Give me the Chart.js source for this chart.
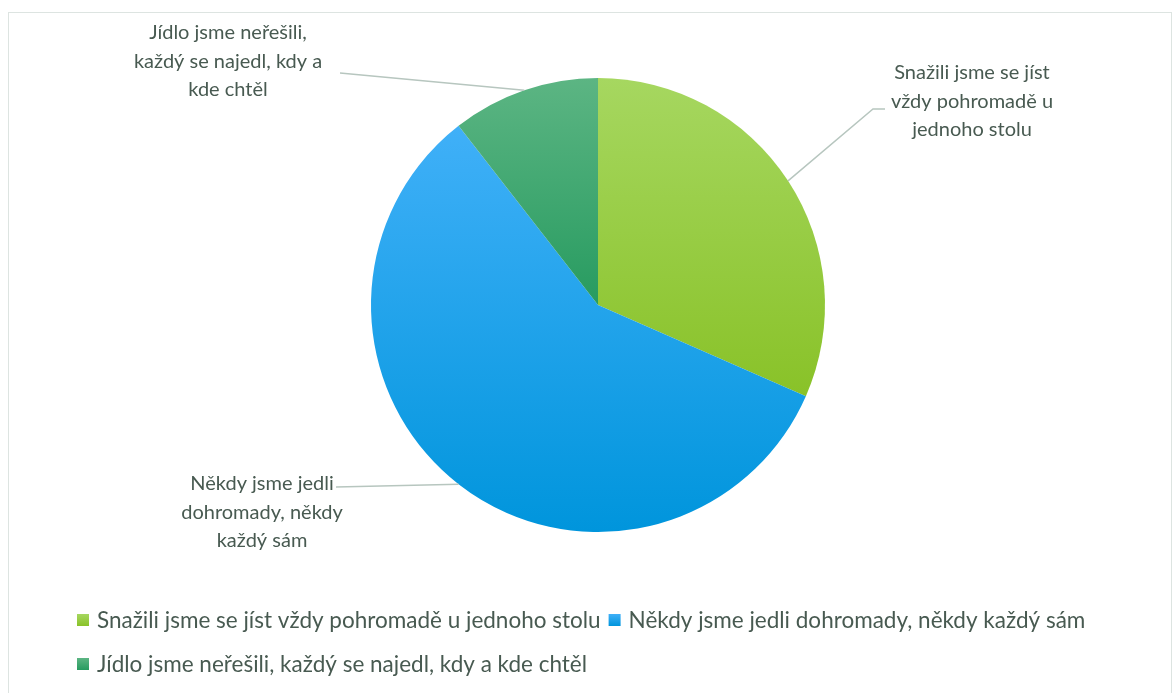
<!DOCTYPE html>
<html lang="cs">
<head>
    <meta charset="UTF-8">
    <title>Společné jídlo</title>
    <script src="https://cdn.jsdelivr.net/npm/chart.js"></script>
    <style>
        html, body {
            margin: 0;
            padding: 0;
            background: #ffffff;
        }
        #wrap {
            position: relative;
            width: 1174px;
            height: 693px;
        }
    </style>
</head>
<body>
    <div id="wrap">
        <canvas id="mealChart"></canvas>
    </div>

    <script>
        const categories = [
            'Snažili jsme se jíst vždy pohromadě u jednoho stolu',
            'Někdy jsme jedli dohromady, někdy každý sám',
            'Jídlo jsme neřešili, každý se najedl, kdy a kde chtěl'
        ];
        const answers = [6, 11, 2];
        const labelLines = [
            ['Snažili jsme se jíst', 'vždy pohromadě u', 'jednoho stolu'],
            ['Někdy jsme jedli', 'dohromady, někdy', 'každý sám'],
            ['Jídlo jsme neřešili,', 'každý se najedl, kdy a', 'kde chtěl']
        ];
        const topColors = ['#a6d760', '#40b0f8', '#5cb583'];
        const bottomColors = ['#89c228', '#0095dc', '#279b60'];

        const LABEL_FONT = '20px Lato, "Noto Sans", sans-serif';
        const LEGEND_FONT = '22.5px Lato, "Noto Sans", sans-serif';
        const TEXT = '#485a51';
        const LEADER = '#b7c6bf';

        // vertical gradient spanning each slice's own bounding box
        function sliceFill(ctx) {
            const chart = ctx.chart;
            const area = chart.chartArea;
            const i = ctx.dataIndex;
            if (!area || i === undefined) return topColors[i] || '#999';
            const total = answers.reduce((a, b) => a + b, 0);
            let before = 0;
            for (let k = 0; k < i; k++) before += answers[k];
            const a0 = -Math.PI / 2 + 2 * Math.PI * before / total;
            const a1 = a0 + 2 * Math.PI * answers[i] / total;
            const cy = (area.top + area.bottom) / 2;
            const r = Math.min(area.right - area.left, area.bottom - area.top) / 2;
            const ys = [cy, cy + r * Math.sin(a0), cy + r * Math.sin(a1)];
            for (let k = -1; k <= 3; k++) {
                const a = -Math.PI / 2 + k * Math.PI;
                if (a > a0 && a < a1) ys.push(cy + r * Math.sin(a));
            }
            const g = chart.ctx.createLinearGradient(0, Math.min(...ys), 0, Math.max(...ys));
            g.addColorStop(0, topColors[i]);
            g.addColorStop(1, bottomColors[i]);
            return g;
        }

        // outside labels: text block centre and the bend of the leader line,
        // both relative to the pie centre
        const labelPlaces = [
            {tx: 374, ty: -232, bend: [[275, -196], [287, -196]]},
            {tx: -336, ty: 179, bend: [[-262, 182]]},
            {tx: -370, ty: -272, bend: [[-258, -232]]}
        ];

        const outsideLabels = {
            id: 'outsideLabels',
            afterDatasetsDraw(chart) {
                const ctx = chart.ctx;
                const arcs = chart.getDatasetMeta(0).data;
                ctx.save();
                arcs.forEach((arc, i) => {
                    const p = labelPlaces[i];
                    const mid = (arc.startAngle + arc.endAngle) / 2;
                    const ex = arc.x + arc.outerRadius * Math.cos(mid);
                    const ey = arc.y + arc.outerRadius * Math.sin(mid);
                    ctx.beginPath();
                    ctx.moveTo(ex, ey);
                    p.bend.forEach(b => ctx.lineTo(arc.x + b[0], arc.y + b[1]));
                    ctx.strokeStyle = LEADER;
                    ctx.lineWidth = 1.5;
                    ctx.stroke();

                    ctx.font = LABEL_FONT;
                    ctx.fillStyle = TEXT;
                    ctx.textAlign = 'center';
                    ctx.textBaseline = 'middle';
                    labelLines[i].forEach((line, j) => {
                        ctx.fillText(line, arc.x + p.tx, arc.y + p.ty + j * 28.5);
                    });
                });
                ctx.restore();
            }
        };

        // legend rows under the pie plus the thin frame round the chart
        const bottomLegend = {
            id: 'bottomLegend',
            afterDraw(chart) {
                const ctx = chart.ctx;
                ctx.save();
                ctx.strokeStyle = '#dde4e1';
                ctx.lineWidth = 1;
                ctx.strokeRect(8.5, 12.5, 1163, 700);

                ctx.font = LEGEND_FONT;
                ctx.textBaseline = 'middle';
                ctx.textAlign = 'left';
                const left = 77, maxRight = 1150, box = 12;
                let x = left, y = 620;
                categories.forEach((name, i) => {
                    const w = box + 8 + ctx.measureText(name).width;
                    if (x > left && x + w > maxRight) {
                        x = left;
                        y += 44;
                    }
                    const g = ctx.createLinearGradient(0, y - box / 2, 0, y + box / 2);
                    g.addColorStop(0, topColors[i]);
                    g.addColorStop(1, bottomColors[i]);
                    ctx.fillStyle = g;
                    ctx.fillRect(x, y - box / 2, box, box);
                    ctx.fillStyle = TEXT;
                    ctx.fillText(name, x + box + 8, y + 1);
                    x += w + 8;
                });
                ctx.restore();
            }
        };

        new Chart(document.getElementById('mealChart'), {
            type: 'pie',
            data: {
                labels: categories,
                datasets: [{
                    data: answers,
                    backgroundColor: sliceFill,
                    borderWidth: 0
                }]
            },
            options: {
                responsive: true,
                maintainAspectRatio: false,
                animation: false,
                layout: {
                    padding: {left: 371, right: 349, top: 78, bottom: 161}
                },
                plugins: {
                    legend: {display: false},
                    tooltip: {enabled: false}
                }
            },
            plugins: [outsideLabels, bottomLegend]
        });
    </script>
</body>
</html>
